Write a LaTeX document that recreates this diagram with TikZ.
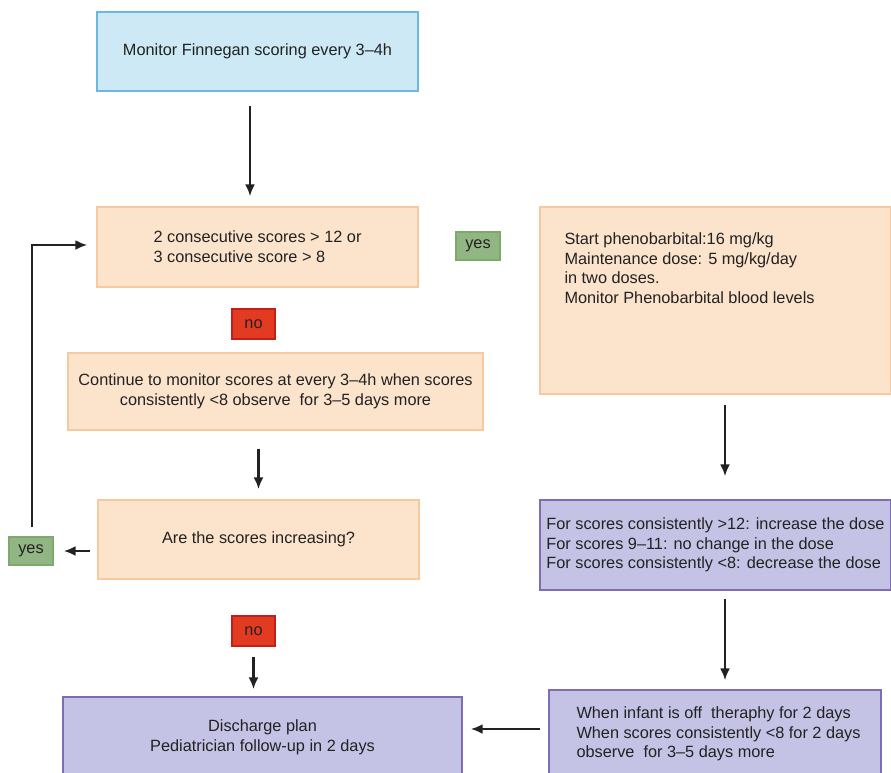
\documentclass[tikz,border=0pt]{standalone}
\usepackage{fontspec}
\setmainfont{Liberation Sans}
\usetikzlibrary{arrows.meta,positioning}
\definecolor{blueFill}{HTML}{CDE9F5}
\definecolor{blueLine}{HTML}{6CB8DE}
\definecolor{peachFill}{HTML}{FBE3CC}
\definecolor{peachLine}{HTML}{F7C9A0}
\definecolor{lilacFill}{HTML}{C5C3E5}
\definecolor{lilacLine}{HTML}{7E6DB3}
\definecolor{yesFill}{HTML}{92B584}
\definecolor{yesLine}{HTML}{7BAA6A}
\definecolor{noFill}{HTML}{E23B22}
\definecolor{noLine}{HTML}{C31E17}
\definecolor{ink}{HTML}{222222}
\begin{document}
\begin{tikzpicture}[x=1pt, y=-1pt,
  every node/.style={font=\fontsize{16.3}{19.7}\selectfont, text=ink},
  box/.style={draw, line width=1.4pt, inner sep=0pt},
  bluebox/.style={box, draw=blueLine, fill=blueFill},
  peachbox/.style={box, draw=peachLine, fill=peachFill},
  lilacbox/.style={box, draw=lilacLine, fill=lilacFill},
  yestag/.style={draw=yesLine, fill=yesFill, line width=1.2pt, minimum width=44pt, minimum height=28pt, inner sep=0pt},
  notag/.style={draw=noLine, fill=noFill, line width=1.2pt, minimum width=43pt, minimum height=30pt, inner sep=0pt},
  arr/.style={-{Latex[length=12pt,width=10pt]}, line width=2.6pt, draw=ink}]
  \useasboundingbox (0,0) rectangle (891,772);

  % left column
  \node[bluebox, minimum width=321pt, minimum height=79pt] (monitor) at (257.5,51.5)
    {Monitor Finnegan scoring every 3--4h};
  \node[peachbox, minimum width=321pt, minimum height=80pt, align=left] (crit) at (257.5,247)
    {2 consecutive scores > 12 or\\3 consecutive score > 8};
  \node[notag] (no1) at (253.5,324) {no};
  \node[peachbox, minimum width=415pt, minimum height=77pt, align=center] (cont) at (275.5,391.5)
    {Continue to monitor scores at every 3--4h when scores\\consistently <8 observe\ \ for 3--5 days more};
  \node[peachbox, minimum width=321pt, minimum height=79pt] (incr) at (258.5,539.5)
    {Are the scores increasing?};
  \node[yestag] (yes2) at (31,551) {yes};
  \node[notag] (no2) at (253.5,631) {no};
  \node[lilacbox, minimum width=399pt, minimum height=80pt, align=center] (discharge) at (262.5,737)
    {Discharge plan\\Pediatrician follow-up in 2 days};

  % right column
  \node[yestag] (yes1) at (478,246) {yes};
  \node[peachbox, minimum width=351pt, minimum height=187pt] (pheno) at (715.5,300.5) {};
  \node[anchor=north west, align=left, inner sep=0pt] (phenotxt) at ([xshift=25pt,yshift=-26pt]pheno.north west)
    {Start phenobarbital:16 mg/kg\\Maintenance dose: 5 mg/kg/day\\in two doses.\\Monitor Phenobarbital blood levels};
  \node[lilacbox, minimum width=351pt, minimum height=90pt, align=left] (dose) at (715.5,545)
    {For scores consistently >12: increase the dose\\For scores 9--11: no change in the dose\\For scores consistently <8: decrease the dose};
  \node[lilacbox, minimum width=332pt, minimum height=88pt] (offtx) at (715,734) {};
  \node[anchor=west, align=left, inner sep=0pt] (offtxt) at ([xshift=28pt]offtx.west)
    {When infant is off\ \ theraphy for 2 days\\When scores consistently <8 for 2 days\\observe\ \ for 3--5 days more};

  % connectors
  \draw[arr, shorten <=14pt, shorten >=10pt] ([xshift=-7.5pt]monitor.south) -- ([xshift=-7.5pt]crit.north);
  \draw[arr, shorten <=18pt, shorten >=10pt] (cont.south -| incr.north) -- (incr.north);
  \draw[arr, shorten <=7pt, shorten >=10pt] (yes2.east -| incr.west) -- (yes2.east);
  \draw[arr, shorten <=9pt, shorten >=9pt] ([xshift=1pt]yes2.north) |- ([yshift=2pt]crit.west);
  \draw[arr, shorten <=10pt, shorten >=7pt] (no2.south) -- (no2.south |- discharge.north);
  \draw[arr, shorten <=10pt, shorten >=23pt] ([xshift=9.5pt]pheno.south) -- ([xshift=9.5pt]pheno.south |- dose.north);
  \draw[arr, shorten <=8pt, shorten >=9pt] ([xshift=9.5pt]dose.south) -- ([xshift=9.5pt]dose.south |- offtx.north);
  \draw[arr, shorten <=8pt, shorten >=8pt] ([yshift=5pt]offtx.west) -- ([yshift=5pt]offtx.west -| discharge.east);
\end{tikzpicture}
\end{document}
